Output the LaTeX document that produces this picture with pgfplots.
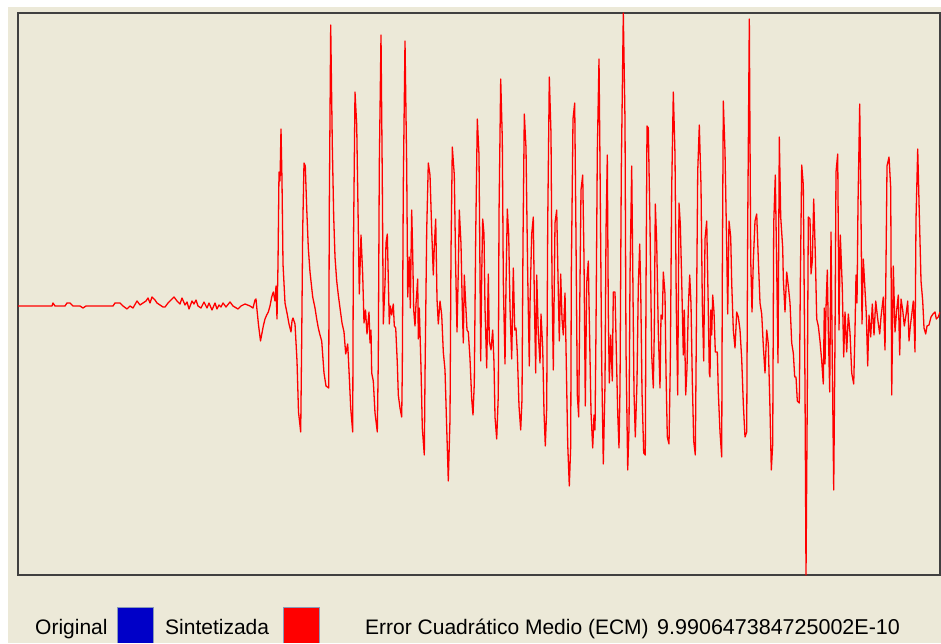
\documentclass[border=0pt]{standalone}
\usepackage{fontspec}
\setmainfont{Liberation Sans}
\usepackage{pgfplots}
\pgfplotsset{compat=1.18}
\definecolor{bgc}{HTML}{ECE9D8}
\definecolor{frc}{HTML}{404040}
\definecolor{blu}{HTML}{0000C8}
\definecolor{sqb}{HTML}{8A9AB8}
\begin{document}
\begin{tikzpicture}[x=1pt,y=1pt]
\useasboundingbox (0,0) rectangle (941,643);
\fill[white] (0,0) rectangle (941,643);
\fill[bgc] (8,0) rectangle (941,636);
\begin{axis}[at={(18pt,68pt)}, anchor=south west, width=922pt, height=562pt, scale only axis,
  xmin=18, xmax=940, ymin=-270, ymax=292, xtick=\empty, ytick=\empty,
  axis background/.style={fill=bgc}, axis line style={draw=frc, line width=2pt}]
\addplot[red, line width=1.3pt, line join=round, mark=none] coordinates {
(18,-1) (52,-1) (53,2) (55,-1) (65,-1) (67,2) (70,2) (73,-1) (80,-1) (83,-3) (86,-1) (113,-1) (115,2) (120,2) (123,-1) (127,-4) (130,-1) (133,-3) (137,4) (140,0) (143,2) (146,4) (148,7) (150,2) (152,8) (155,5) (157,2) (160,0) (163,-2) (165,-2) (168,2) (171,5) (174,8) (177,4) (180,1) (182,7) (185,0) (187,3) (189,-4) (192,4) (194,1) (196,5) (198,-1) (201,-3) (204,3) (207,-3) (209,2) (212,-5) (215,2) (217,-4) (219,0) (221,-2) (223,2) (226,-2) (230,3) (233,-1) (238,-4) (241,-1) (245,1) (250,-1) (253,-3) (255,5) (256,6) (257,-5) (258.5,-20) (260.5,-36)
(263.3,-21) (265,-14) (266.7,-10) (268.3,-7) (270,-1) (271.7,8) (273.3,13) (275,4) (276,19) (277,-14) (278,41) (279,133) (280,124) (281,176) (282,124) (283,41) (285,2) (287,-8) (289,-19) (291,-27) (292,-16) (293,-13) (295,-19) (297,-56) (298.5,-107) (300.7,-127) (301.7,-34) (302.7,75) (304,142) (305.3,139) (306.7,97) (308.3,57) (310,33) (312.7,8) (315,-3) (316.7,-14) (318.3,-23) (320,-30) (321.7,-36) (324,-68) (326,-81) (328.7,-83) (329.3,97) (330.7,280) (332.3,160) (333.7,88) (335,48) (336.7,24) (338.3,10) (340,-3) (342,-18) (344,-27) (345.7,-49) (347.7,-39) (349.3,-72) (350.7,-103) (352.7,-127) (353.3,44) (355,213) (356.7,180) (358.3,77) (359.3,11) (361,70) (362.7,30) (364,-18)
(365.5,-5) (367,-29) (369,-7) (370,-38) (371,-25) (371.7,-68) (373.3,-76) (375,-108) (377.3,-127) (378.3,-54) (379.3,140) (381,270) (382.3,124) (383.3,-19) (385,21) (386,62) (387.3,71) (388.3,26) (389.3,-19) (390.3,-1) (391.7,-10) (393.3,1) (394.3,-21) (395.7,-23) (397.3,-58) (398.3,-90) (400,-103) (401.7,-112) (402.3,-65) (403.3,120) (405,264) (406.7,139) (407.7,8) (409.3,48) (410.3,-3) (411.7,95) (412.7,51) (413.7,-5) (415,-21) (416,1) (417.7,26) (418.3,-34) (419.3,-3) (421,-63) (422.3,-123) (424.3,-150) (425,-72) (426.7,75) (428.3,142) (430,130) (431.7,75) (433.3,30) (434.3,59) (435.7,86) (437,6) (438.3,-19) (440,4) (441.7,-10) (443.3,-47) (445,-65) (446.7,-123) (448.3,-176) (450,-114) (451,53) (452.3,158) (454.3,130) (455.7,37) (457,-27) (458.3,35) (459.3,95) (461,61) (462.3,-3) (463.3,-38) (464.3,30) (465.7,1) (467,-25) (468.3,-27) (470,-54) (471.7,-94) (473,-110) (474.3,-78) (475.7,70) (477.3,186) (479,150)
(480.7,-56) (481.7,30) (482.7,86) (484,71) (485,-3) (486.7,-63) (488.3,31) (489.3,-36) (491,-45) (492.7,-25) (494,-58) (495,-112) (496.7,-134) (498.3,-90) (499,90) (500.7,226) (502.3,166) (503.3,24) (505,-59) (506,19) (507.3,96) (508.7,70) (510,-3) (511.7,-54) (513.3,37) (514.7,-25) (516,-23) (517.3,-48) (519,-101) (520.7,-125) (522,-94) (523,64) (524.3,191) (526,157) (527.7,30) (529.3,-61) (530,1) (531.7,71) (533.3,88) (534.3,8) (535.7,-68) (536.7,30) (538.3,-29) (540,-58) (541,-9) (542.7,-43) (544,-107) (545.3,-141) (546.7,-103) (547.7,81) (549.3,228) (551,171) (552,26) (553.3,-65) (555,82) (556.7,95) (558,28) (559.3,-36) (560.7,31) (562,-14) (563.3,-30) (565,12) (566,-43) (567.7,-139) (569.3,-181) (570.7,-141) (571.3,30) (573,186) (574.7,202) (576,66) (577.3,-90) (578.7,-112) (579.7,-5) (581,115) (582.7,130) (584,46) (585.3,-101) (586.7,22) (588.3,44) (589.3,-14) (591,-107) (592.7,-143) (594,-110)
(595,-125) (596,-23) (597.3,153) (599,246) (600,142) (601.7,-59) (603.3,-159) (605,-79) (606,73) (607.3,150) (608.3,-7) (609.3,-78) (610.7,-30) (612.3,-76) (613.3,13) (615,13) (616,-32) (617.7,-108) (619,-143) (620,-83) (621.3,135) (623.3,292) (625,184) (626,-45) (627.7,-165) (629,-123) (630,28) (631.7,139) (632.7,41) (634,-87) (635.3,-132) (637,-76) (638.3,19) (639.7,61) (640.7,17) (642,-87) (643.7,-148) (645.3,-150) (646,15) (647,179) (648.3,177) (650,79) (651.7,-50) (653.3,-83) (654.3,-25) (655.3,101) (656.7,62) (658.3,-27) (660,-83) (661,-10) (662.3,-14) (663.3,33) (665,11) (666,-67) (667.3,-132) (669,-139) (670.3,-58) (671.7,117) (673.3,213) (675,150) (676.3,-3) (677.7,-90) (679,102) (680.3,81) (681.7,24) (683.3,-50) (684.3,-5) (685.7,-90) (687,-63) (688.3,-3) (689.7,30) (691,1) (692.3,-76) (693.7,-136) (695.3,-150) (696.3,-32) (697.7,133) (699.3,180) (701,119) (702.3,2) (703.7,-56) (705,66) (706.7,84) (708.3,-5) (709.3,-68)
(710,-72) (710.7,-5) (711.7,-30) (712.7,10) (714,-7) (715.3,-47) (717.3,-47) (718.3,-87) (720,-127) (721.7,-152) (722.3,26) (723.3,204) (725,153) (726.7,57) (727.7,-9) (729,84) (730.7,68) (731.7,22) (733.3,-25) (735,-43) (736.7,-7) (738.3,-12) (740,-25) (741.7,-54) (743.3,-99) (745,-132) (746.7,-127) (747.7,79) (749.3,286) (750.7,46) (752,-7) (753.3,44) (755,84) (756.7,91) (758.3,46) (760,2) (761.7,-9) (763.3,-41) (765,-68) (766.7,-25) (768.3,-39) (770,-105) (771.3,-165) (772.7,-139) (773.7,81) (775.3,130) (776.7,37) (778,-58) (779.3,168) (780.7,88) (782.7,57) (783.3,26) (785,-7) (786.7,33) (788.3,19) (790,2) (791.7,-38) (793.3,-48) (794.7,-72) (796,-72) (797.3,-96) (799.3,-98) (800.3,20) (801.7,140) (803.3,120) (805,-83) (806,-270) (807.3,-90) (808.3,88) (810,86) (811,31) (812.3,44) (813.7,106) (815.3,51) (816.7,-14) (818.3,-21) (820,-36) (821.7,-56) (823.3,-79) (824.3,-3)
(825,-59) (826,-3) (827.3,35) (828.3,-25) (829.7,-87) (831,73) (832.3,-56) (833.7,-185) (835,-34) (836,133) (837.7,151) (839,-25) (840.3,70) (842.3,17) (843.7,-52) (845,-7) (846.7,-47) (848.3,-9) (850,-28) (851.7,-68) (853.7,-79) (855,-25) (856,30) (857,2) (858,101) (859.7,201) (861,90) (862,-19) (863.3,46) (865,15) (866.3,-9) (867.7,-61) (869,-10) (870.7,-32) (872.3,1) (874,-30) (875.7,4) (877.7,-14) (879.7,-29) (881,-12) (883.3,8) (885,-45) (886,42) (887,139) (889,148) (890.7,117) (891.7,-90) (893.3,39) (895,-27) (896.7,-5) (898.3,10) (899.7,-50) (901,6) (902.7,-5) (904.3,-21) (906,-10) (907.7,4) (909,-36) (910.3,-21) (911.7,-10) (913.3,4) (915,-47) (916,86) (917.7,156) (919.3,91) (921,24) (922.7,4) (924,-23) (925.7,-29) (927,-21) (929,-20) (931,-12) (933,-9) (935,-7) (936.3,-14) (938.3,-12) (940,-7)
};
\end{axis}
\fill[blu] (117,0) rectangle (154,36);
\draw[sqb, line width=0.8pt] (117.4,0) -- (117.4,35.6) -- (153.6,35.6) -- (153.6,0);
\fill[red] (283,0) rectangle (320,36);
\draw[sqb, line width=0.8pt] (283.4,0) -- (283.4,35.6) -- (319.6,35.6) -- (319.6,0);
\begin{scope}[every node/.style={anchor=base west, inner sep=0pt, font=\fontsize{21}{25}\selectfont}]
\node at (35,9) {Original};
\node at (165,9) {Sintetizada};
\node at (365,9) {Error Cuadrático Medio (ECM)};
\node[font=\fontsize{21.5}{25}\selectfont] at (657,9) {9.990647384725002E-10};
\end{scope}
\end{tikzpicture}
\end{document}
